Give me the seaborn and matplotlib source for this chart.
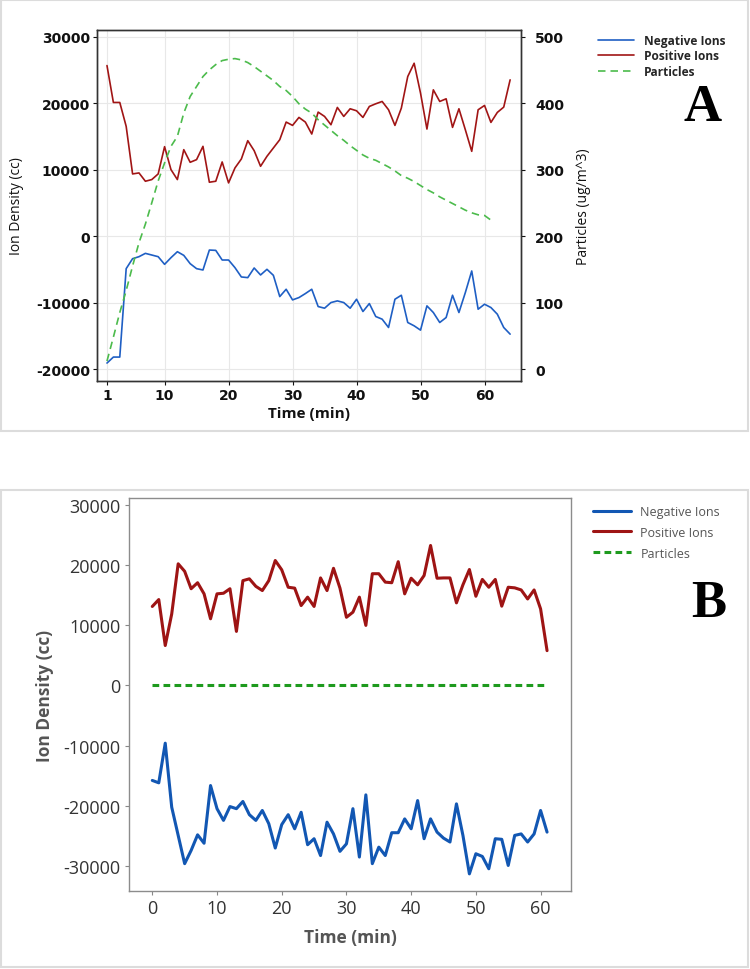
import matplotlib
matplotlib.use("Agg")
import matplotlib.pyplot as plt
from matplotlib.patches import Rectangle
import seaborn as sns

# Panel A: ion density (cc) and particles (ug/m^3), time 1..64 min
a_time = list(range(1, 65))
a_negative = [-19100, -18200, -18200, -4900, -3400, -3100, -2600, -2850, -3100, -4250,
              -3250, -2350, -2900, -4150, -4900, -5100, -2100, -2150, -3600, -3600,
              -4750, -6150, -6250, -4800, -5850, -5000, -5900, -9100, -8000, -9600,
              -9250, -8650, -8000, -10600, -10850, -10000, -9750, -10000, -10850, -9500,
              -11350, -10150, -12100, -12500, -13750, -9500, -8900, -13000, -13500, -14150,
              -10500, -11500, -13000, -12250, -8900, -11500, -8500, -5250, -11000, -10250,
              -10750, -11750, -13750, -14750]
a_positive = [25650, 20100, 20100, 16500, 9350, 9500, 8250, 8500, 9350, 13450,
              10000, 8500, 13000, 11100, 11500, 13500, 8100, 8250, 11150, 8000,
              10250, 11600, 14350, 12850, 10500, 12000, 13250, 14500, 17150, 16650,
              17850, 17150, 15350, 18650, 18000, 16750, 19350, 18000, 19150, 18850,
              17850, 19500, 19900, 20250, 19000, 16650, 19250, 24000, 26000, 21500,
              16100, 22000, 20250, 20650, 16350, 19150, 16000, 12750, 19000, 19650,
              17100, 18600, 19400, 23500]
a_ptime = list(range(1, 62))
a_particles = [12, 48, 85, 118, 155, 190, 218, 250, 283, 310,
               335, 350, 385, 410, 425, 440, 450, 458, 464, 466,
               467, 465, 461, 455, 448, 441, 434, 425, 419, 410,
               399, 391, 385, 375, 367, 359, 351, 344, 336, 329,
               322, 317, 314, 309, 304, 298, 291, 287, 282, 276,
               270, 265, 259, 254, 249, 244, 239, 235, 232, 231, 224]
a_xticks = [1, 10, 20, 30, 40, 50, 60]
a_yticks = [-20000, -10000, 0, 10000, 20000, 30000]
a_y2ticks = [0, 100, 200, 300, 400, 500]

# Panel B: time 0..61 min
b_time = list(range(0, 62))
b_positive = [13150, 14300, 6650, 11900, 20250, 19000, 16100, 17100, 15250, 11100,
              15250, 15350, 16100, 9000, 17450, 17750, 16500, 15800, 17450, 20800,
              19250, 16350, 16200, 13300, 14700, 13150, 17900, 15800, 19500, 16200,
              11350, 12200, 14700, 10000, 18600, 18600, 17200, 17100, 20600, 15250,
              17850, 16750, 18300, 23300, 17850, 17900, 17900, 13750, 16750, 19300,
              14850, 17650, 16350, 17650, 13200, 16350, 16250, 15900, 14400, 15900,
              12750, 5800]
b_negative = [-15800, -16200, -9600, -20250, -24950, -29650, -27450, -24850, -26250, -16650,
              -20500, -22450, -20150, -20500, -19300, -21500, -22450, -20800, -23000, -27050,
              -23150, -21500, -23850, -21100, -26500, -25500, -28300, -22750, -24700, -27600,
              -26350, -20500, -28550, -18200, -29650, -26900, -28300, -24500, -24500, -22200,
              -23850, -19150, -25500, -22200, -24400, -25400, -26050, -19700, -24950, -31350,
              -28000, -28450, -30500, -25500, -25600, -29950, -24950, -24700, -26050, -24700,
              -20800, -24400]
b_particles = [0] * 62
b_xticks = [0, 10, 20, 30, 40, 50, 60]
b_yticks = [-30000, -20000, -10000, 0, 10000, 20000, 30000]

labels = ["Negative Ions", "Positive Ions", "Particles"]


def main():
    sns.set_style("white")
    plt.rcParams["font.family"] = ["Open Sans", "DejaVu Sans"]

    fig = plt.figure(figsize=(7.5, 9.7), dpi=100)

    # light frames around the two panels
    fig.patches.append(Rectangle((1 / 750, 1 - 432 / 970), 747 / 750, 431 / 970,
                                 transform=fig.transFigure, fill=False,
                                 ec="#dcdcdc", lw=1.5))
    fig.patches.append(Rectangle((1 / 750, 2 / 970), 747 / 750, 477 / 970,
                                 transform=fig.transFigure, fill=False,
                                 ec="#dcdcdc", lw=1.5))

    # ---------------- Panel A ----------------
    ax = fig.add_axes([97 / 750, 1 - 382 / 970, 424 / 750, 351 / 970])
    ax2 = ax.twinx()
    sns.lineplot(x=a_time, y=a_negative, ax=ax, color="#1f5fc4", lw=1.2)
    sns.lineplot(x=a_time, y=a_positive, ax=ax, color="#a11515", lw=1.2)
    sns.lineplot(x=a_ptime, y=a_particles, ax=ax2, color="#4cbb4c", lw=1.2,
                 linestyle=(0, (4.5, 3)))

    ax.set_xlim(-0.56, 65.7)
    ax.set_ylim(-21800, 31000)
    ax2.set_ylim(-18, 510)
    ax.grid(True, color="#e8e8e8", lw=0.8)
    ax.set_axisbelow(True)

    bold = dict(fontfamily="DejaVu Sans", fontweight="bold", fontsize=10)
    ax.set_xticks(a_xticks)
    ax.set_xticklabels([str(t) for t in a_xticks], **bold)
    ax.set_yticks(a_yticks)
    ax.set_yticklabels([str(t) for t in a_yticks], **bold)
    ax2.set_yticks(a_y2ticks)
    ax2.set_yticklabels([str(t) for t in a_y2ticks], **bold)
    ax.tick_params(bottom=True, left=True, length=3, width=0.8, pad=2, colors="#111")
    ax2.tick_params(right=True, length=3, width=0.8, pad=7, colors="#111")

    for a in (ax, ax2):
        for s in a.spines.values():
            s.set_color("#333333")
            s.set_linewidth(1.0)

    ax.set_xlabel("Time (min)", fontsize=11, fontweight="bold", color="#111")
    ax.xaxis.set_label_coords(0.5, -0.072)
    ax.set_ylabel("Ion Density (cc)", fontsize=10, color="#111")
    ax.yaxis.set_label_coords(-0.172, 0.5)
    ax2.set_ylabel("Particles (ug/m^3)", fontsize=10, color="#111")
    ax2.yaxis.set_label_coords(1.13, 0.5)

    handles_a = ax.get_lines()[:2] + ax2.get_lines()[:1]
    fig.legend(handles_a, labels, loc="upper left",
               bbox_to_anchor=(598 / 750, 1 - 35 / 970), frameon=False,
               borderpad=0, borderaxespad=0, handlelength=3.0,
               handletextpad=0.85, labelspacing=0.2,
               prop=dict(family="Open Sans", weight="bold", size=8.6))
    fig.text(703 / 750, 1 - 121 / 970, "A", ha="center", va="baseline", color="black",
             fontfamily="Liberation Serif", fontweight="bold", fontsize=38)

    # ---------------- Panel B ----------------
    bx = fig.add_axes([129 / 750, 1 - 892 / 970, 442 / 750, 393 / 970])
    sns.lineplot(x=b_time, y=b_negative, ax=bx, color="#1257b3", lw=2.2)
    sns.lineplot(x=b_time, y=b_positive, ax=bx, color="#9e1414", lw=2.2)
    sns.lineplot(x=b_time, y=b_particles, ax=bx, color="#1e9a1e", lw=2.2,
                 linestyle=(0, (2.2, 1.4)))

    bx.set_xlim(-3.6, 64.7)
    bx.set_ylim(-34200, 31200)
    bx.set_xticks(b_xticks)
    bx.set_xticklabels([str(t) for t in b_xticks], fontsize=13, color="#333")
    bx.set_yticks(b_yticks)
    bx.set_yticklabels([str(t) for t in b_yticks], fontsize=13, color="#333")
    bx.tick_params(bottom=True, left=True, length=3, width=0.8, pad=3,
                   color="#888888")
    for s in bx.spines.values():
        s.set_color("#8c8c8c")
        s.set_linewidth(1.0)

    bx.set_xlabel("Time (min)", fontsize=12.5, fontweight="bold", color="#555")
    bx.xaxis.set_label_coords(0.5, -0.095)
    bx.set_ylabel("Ion Density (cc)", fontsize=12.5, fontweight="bold", color="#555")
    bx.yaxis.set_label_coords(-0.17, 0.5)

    leg_b = fig.legend(bx.get_lines()[:3], labels, loc="upper left",
                       bbox_to_anchor=(593 / 750, 1 - 506 / 970), frameon=False,
                       borderpad=0, borderaxespad=0, handlelength=3.0,
                       handletextpad=0.8, labelspacing=0.62,
                       prop=dict(family="Open Sans", size=9))
    for t in leg_b.get_texts():
        t.set_color("#555555")
    fig.text(709 / 750, 1 - 617 / 970, "B", ha="center", va="baseline", color="black",
             fontfamily="Liberation Serif", fontweight="bold", fontsize=38)

    fig.savefig("out.png", dpi=100)


main()
